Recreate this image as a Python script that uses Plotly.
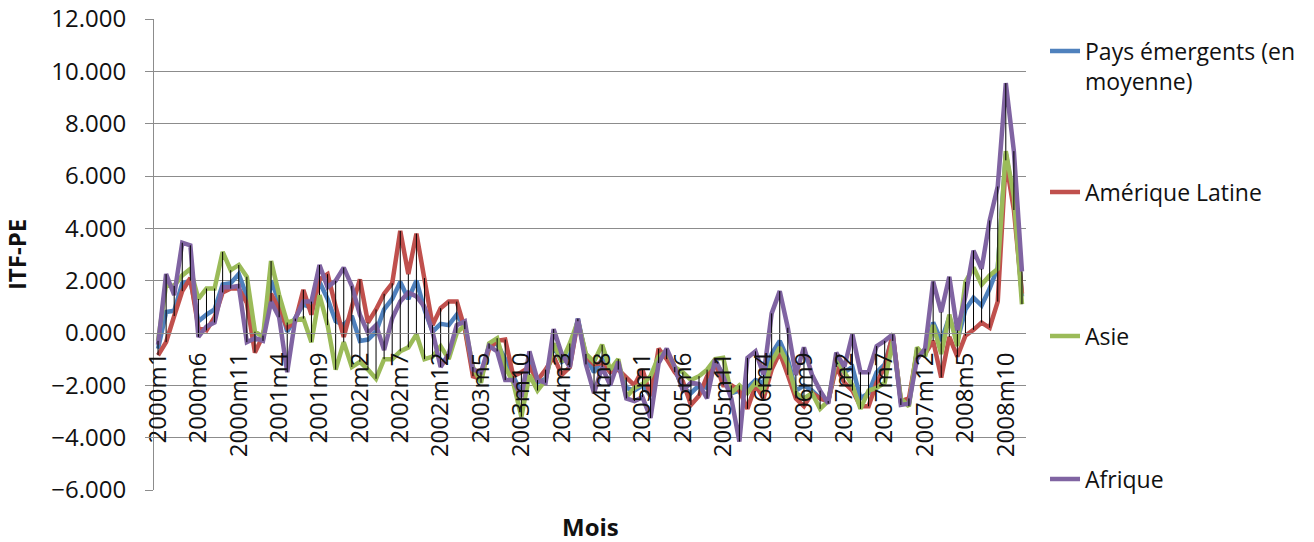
import plotly.graph_objects as go

years = list(range(2000, 2009))
month_nums = list(range(1, 13))
months = [f"{y}m{m}" for y in years for m in month_nums]

pays_emergents = [
    -0.6, 0.8, 0.85, 1.9, 2.0, 0.45, 0.7, 0.9, 1.85, 1.9, 2.25, 1.4,
    -0.25, -0.2, 2.0, 1.2, 0.05, 0.55, 1.1, 0.95, 1.95, 1.3, 0.45, 0.3,
    0.65, -0.3, -0.25, 0.05, 0.9, 1.3, 1.95, 1.3, 2.0, 0.9, 0.05, 0.35,
    0.3, 0.7, 0.2, -1.5, -1.7, -0.5, -0.4, -1.0, -1.7, -2.3, -1.1, -1.9,
    -1.75, -0.5, -1.1, -0.9, 0.55, -0.9, -1.5, -1.0, -1.5, -1.2, -2.1, -2.2,
    -2.0, -2.4, -0.9, -0.8, -1.4, -2.1, -2.3, -2.0, -2.1, -1.1, -1.6, -2.3,
    -2.2, -2.1, -1.8, -1.9, -0.8, -0.3, -1.0, -2.2, -2.0, -2.2, -2.5, -2.6,
    -1.2, -1.5, -1.3, -2.5, -2.3, -1.5, -1.2, -0.1, -2.6, -2.7, -0.7, -0.8,
    0.4, -0.3, 0.6, -0.3, 0.9, 1.35, 1.05, 1.7, 2.5, 6.85, 5.1, 1.4,
]
amerique_latine = [
    -0.85, -0.35, 0.65, 1.6, 2.1, 0.2, 0.1, 0.6, 1.55, 1.7, 1.7, 1.15,
    -0.75, -0.1, 1.5, 0.9, 0.2, 0.45, 1.65, 0.7, 2.05, 2.25, 1.0, -0.15,
    1.0, 2.05, 0.4, 0.9, 1.5, 1.9, 3.9, 2.25, 3.8, 2.1, 0.3, 0.95,
    1.2, 1.2, 0.15, -1.65, -1.75, -0.6, -0.3, -0.25, -1.65, -1.5, -1.3, -1.8,
    -1.4, -0.9, -1.6, -1.3, 0.45, -0.9, -1.2, -1.15, -1.5, -1.4, -1.7, -2.0,
    -1.4, -2.4, -0.6, -1.0, -1.5, -1.85, -2.75, -2.4, -1.65, -1.15, -2.0, -2.0,
    -2.2, -2.9, -2.0, -2.5, -1.4, -0.75, -1.6, -2.5, -2.8, -2.3, -2.5, -2.6,
    -1.3, -1.9, -2.2, -2.8, -2.8, -1.9, -1.3, -0.05, -2.6, -2.5, -0.7, -0.8,
    -0.3, -1.7, -0.15, -0.9, -0.1, 0.12, 0.4, 0.2, 1.2, 6.6, 4.7, 1.5,
]
asie = [
    -0.3, 1.85, 1.8, 2.2, 2.45, 1.3, 1.7, 1.7, 3.1, 2.4, 2.6, 2.15,
    0.05, -0.15, 2.75, 1.45, 0.4, 0.5, 0.55, -0.35, 1.45, 0.3, -1.4, -0.35,
    -1.3, -1.1, -1.4, -1.75, -1.0, -1.0, -0.7, -0.55, -0.05, -1.0, -0.9, -0.5,
    -1.0, 0.0, 0.3, -1.3, -1.9, -0.4, -0.2, -1.3, -1.9, -3.2, -1.6, -2.2,
    -1.8, -0.4, -1.1, -0.4, 0.45, -0.8, -1.1, -0.45, -1.4, -1.0, -2.45, -2.1,
    -1.95, -1.65, -0.9, -0.7, -1.3, -1.5, -1.8, -1.65, -1.4, -1.0, -0.95, -2.3,
    -2.0, -2.3, -1.9, -2.2, -1.1, -0.55, -1.2, -2.3, -2.5, -2.3, -2.9, -2.6,
    -1.0, -1.5, -2.0, -2.9, -2.2, -2.1, -1.9, -0.3, -2.5, -2.8, -0.55, -0.9,
    0.3, -0.8, 0.7, -0.5, 1.95, 2.5, 1.85, 2.2, 2.45, 6.95, 5.2, 1.1,
]
afrique = [
    -0.45, 2.25, 1.45, 3.45, 3.35, -0.15, 0.25, 0.4, 1.75, 1.75, 1.8, -0.35,
    -0.2, -0.3, 1.2, 0.6, -1.5, 0.55, 1.2, 1.2, 2.6, 1.75, 2.0, 2.5,
    1.8, 0.7, 0.0, 0.3, -0.65, 0.55, 1.2, 1.55, 1.4, 1.0, 0.05, -1.3,
    -0.8, 0.3, 0.45, -1.4, -1.5, -0.5, -0.7, -1.8, -1.8, -2.45, -0.7, -1.8,
    -1.9, 0.15, -0.8, -1.3, 0.55, -1.2, -2.3, -1.3, -2.0, -1.1, -2.5, -2.6,
    -2.45, -3.25, -1.15, -0.6, -1.3, -2.2, -1.9, -1.95, -2.5, -1.0, -1.65, -2.5,
    -4.15, -0.95, -0.7, -1.6, 0.75, 1.6, 0.2, -1.6, -0.55, -1.6, -2.2, -2.7,
    -0.75, -1.3, -0.05, -1.5, -1.5, -0.5, -0.3, -0.05, -2.75, -2.7, -1.0, -0.6,
    1.97, 0.8, 2.15, 0.1, 1.4, 3.15, 2.45, 4.3, 5.6, 9.55, 6.95, 2.35,
]

series_names = ["Pays émergents (en<br>moyenne)", "Amérique Latine", "Asie", "Afrique"]
series_values = [pays_emergents, amerique_latine, asie, afrique]
series_colors = ["#4F81BD", "#C0504D", "#9BBB59", "#8064A2"]
legend_ids = ["legend", "legend2", "legend3", "legend4"]
legend_y = [0.900, 0.6327, 0.327, 0.0234]

FONT = "Open Sans"
FS = 24
LFS = 23
TXT = "#111111"
GRID = "#8c8c8c"

fig = go.Figure()
for name, vals, col, lg in zip(series_names, series_values, series_colors, legend_ids):
    fig.add_trace(go.Scatter(
        x=months, y=vals, mode="lines", name=name,
        line=dict(color=col, width=4.5), legend=lg,
    ))

# high-low lines (Excel style) between min and max of the series at each month
hl_x, hl_y = [], []
for k, m in enumerate(months):
    vals = [s[k] for s in series_values]
    hl_x += [m, m, None]
    hl_y += [min(vals), max(vals), None]
fig.add_trace(go.Scatter(x=hl_x, y=hl_y, mode="lines", showlegend=False,
                         line=dict(color="black", width=1), hoverinfo="skip"))

legend_common = dict(x=1.0218, xanchor="left", yanchor="middle", valign="top",
                     bgcolor="rgba(0,0,0,0)", font=dict(family=FONT, size=LFS, color=TXT),
                     borderwidth=0)
layout_legends = {}
for lg, ly in zip(legend_ids, legend_y):
    layout_legends[lg] = dict(legend_common, y=ly)

fig.update_layout(
    width=1314, height=542,
    margin=dict(l=154, r=288, t=19, b=52, pad=0),
    paper_bgcolor="white", plot_bgcolor="white",
    font=dict(family=FONT, size=FS, color=TXT),
    showlegend=True,
    **layout_legends,
    xaxis=dict(
        type="category", categoryorder="array", categoryarray=months,
        range=[-0.5, len(months) - 0.5],
        anchor="free", position=6 / 18, automargin=False,
        tickmode="array", tickvals=months[::5], ticktext=months[::5],
        tickangle=-90, ticks="", showgrid=False,
        showline=True, linecolor=GRID, linewidth=1,
        ticklabelstandoff=9, ticklabeloverflow="allow",
        tickfont=dict(family=FONT, size=FS, color=TXT),
    ),
    yaxis=dict(
        range=[-6, 12], tickmode="linear", tick0=-6, dtick=2, automargin=False,
        tickformat=".3f", showgrid=True, gridcolor=GRID, gridwidth=1,
        zeroline=False, showline=True, linecolor=GRID, linewidth=1,
        ticks="outside", ticklen=8, tickcolor=GRID, ticklabelstandoff=14,
        ticklabeloverflow="allow",
        tickfont=dict(family=FONT, size=FS, color=TXT),
        title=dict(text="ITF-PE", standoff=32,
                   font=dict(family=FONT, size=FS, color=TXT, weight="bold")),
    ),
    annotations=[dict(
        text="Mois", xref="paper", yref="paper", x=0.5, y=(490 - 526) / 471,
        xanchor="center", yanchor="middle", showarrow=False,
        font=dict(family=FONT, size=FS, color=TXT, weight="bold"),
    )],
)

fig.write_html("out.html", config={"displayModeBar": False},
               post_script="document.body.style.margin='0';")
